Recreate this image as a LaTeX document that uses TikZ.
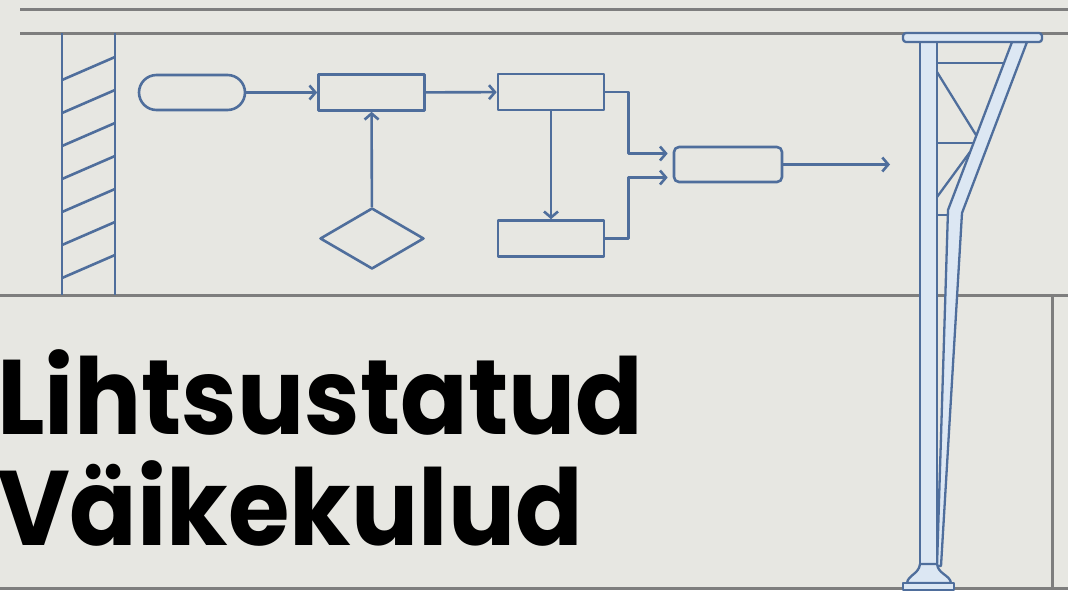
\documentclass[tikz,border=0pt]{standalone}
\usepackage{fontspec}
\setmainfont{Poppins}
\usetikzlibrary{positioning,shapes.geometric,arrows.meta,calc}
\definecolor{paper}{HTML}{E7E7E2}
\definecolor{rule}{HTML}{7E7E7E}
\definecolor{flow}{HTML}{4F6E9C}
\definecolor{steel}{HTML}{DCE7F3}

\begin{document}
\begin{tikzpicture}[x=1pt,y=-1pt,line join=round,>={Straight Barb[length=6pt,width=14pt]}]
\tikzstyle{fl} = [draw=flow,line width=2.6pt]
\tikzstyle{box} = [fl,shape=rectangle,minimum width=106pt,minimum height=36pt,inner sep=0pt]
\tikzstyle{pill} = [box,rounded corners=17.5pt,minimum height=35pt]
\tikzstyle{dec} = [fl,shape=diamond,minimum width=104pt,minimum height=61pt,inner sep=0pt]
\tikzstyle{gr} = [draw=rule,line width=3pt]
\tikzstyle{pil} = [draw=flow,fill=steel,line width=2.3pt]
\tikzstyle{ttl} = [anchor=base west,inner sep=0pt,font=\fontsize{106}{106}\selectfont\bfseries]
% paper and frame
\fill[paper] (0,0) rectangle (1068,590);
\useasboundingbox (0,0) rectangle (1068,590);
\draw[gr] (20,9) -- (1068,9);
\draw[gr] (20,33) -- (1068,33);
\draw[gr] (0,295) -- (1068,295);
\draw[gr] (0,588) -- (1068,588);
\draw[gr] (1052,295) -- (1052,590);
% hatched wall
\draw[fl] (62,33) -- (62,295);
\draw[fl] (115,33) -- (115,295);
\foreach \y in {80,113,146,179,212,245,278}
  \draw[fl] (62,\y) -- (115,\y-23);
% flow chart
\node[pill] (start) at (192,92.5) {};
\node[box] (calc) at (371.5,92.5) {};
\node[dec] (check) at (372,238.5) {};
\node[box] (split) at (551,92) {};
\node[box] (side) at (551,238.5) {};
\node[box,rounded corners=5pt,minimum width=108pt,minimum height=35pt] (join) at (728,164.5) {};
\coordinate (out) at (890,164.5);
\draw[fl,->] (start) -- (calc);
\draw[fl,->] (check) -- (calc);
\draw[fl,->] (calc) -- (split);
\draw[fl,->] (split) -- (side);
\draw[fl,->,shorten >=5pt] (split.east) -- ++(23,0) |- ([yshift=11pt]join.west);
\draw[fl,->,shorten >=5pt] (side.east) -- ++(23,0) |- ([yshift=-13pt]join.west);
\draw[fl,->] (join) -- (out);
% pillar
\filldraw[pil] (1012,42) -- (948,210) -- (937,566) -- (941,566) -- (962,213) -- (1027,42) -- cycle;
\filldraw[pil] (920,42) rectangle (937,566);
\draw[pil] (937,63) -- (1004,63);
\draw[pil] (937,143) -- (974,143);
\draw[pil] (937,215) -- (948,215);
\draw[pil] (937,72) -- (976,135);
\draw[pil] (937,197) -- (970,152);
\filldraw[pil,rounded corners=3pt] (903,33) rectangle (1042,42);
\filldraw[pil] (920,564) .. controls (919,574) and (908,575) .. (907,583) -- (951,583) .. controls (950,575) and (938,574) .. (937,564) -- cycle;
\filldraw[pil] (903,583) rectangle (954,590);
% title
\node[ttl] (line1) at (-3,434) {\scalebox{0.94}[1]{Lihtsustatud}};
\node[ttl] (line2) at (-3,545) {\scalebox{0.94}[1]{Väikekulud}};
\end{tikzpicture}
\end{document}
